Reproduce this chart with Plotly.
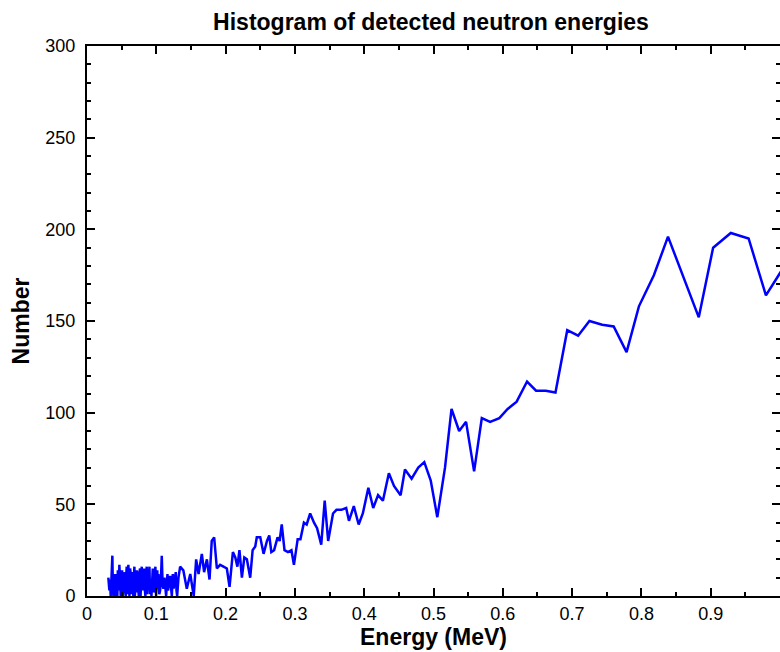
import plotly.graph_objects as go

# Low-energy region (dense, noisy bins)
energy_low = [
    0.0308, 0.0315, 0.0323, 0.0332, 0.0342, 0.0349, 0.0356, 0.0366, 0.0373, 0.0381,
    0.0388, 0.0395, 0.0402, 0.0409, 0.0419, 0.0428, 0.0438, 0.0445, 0.0453, 0.0460,
    0.0467, 0.0477, 0.0487, 0.0496, 0.0506, 0.0515, 0.0525, 0.0532, 0.0539, 0.0549,
    0.0559, 0.0566, 0.0573, 0.0580, 0.0588, 0.0597, 0.0604, 0.0612, 0.0622, 0.0631,
    0.0638, 0.0645, 0.0655, 0.0662, 0.0669, 0.0676, 0.0684, 0.0691, 0.0698, 0.0708,
    0.0717, 0.0727, 0.0737, 0.0747, 0.0756, 0.0766, 0.0773, 0.0780, 0.0790, 0.0797,
    0.0804, 0.0814, 0.0824, 0.0833, 0.0843, 0.0852, 0.0862, 0.0869, 0.0877, 0.0886,
    0.0893, 0.0901, 0.0910, 0.0920, 0.0930, 0.0939, 0.0949, 0.0958, 0.0968, 0.0978,
    0.0987, 0.0997, 0.1007, 0.1014, 0.1021, 0.1031, 0.1043, 0.1055, 0.1067, 0.1079,
    0.1091, 0.1103, 0.1118, 0.1130, 0.1142, 0.1161, 0.1170, 0.1180, 0.1199, 0.1212,
    0.1224, 0.1238, 0.1250, 0.1262, 0.1281, 0.1291, 0.1301, 0.1320, 0.1344,
]
counts_low = [
    10, 4, 3, 9, 0, 6, 11, 22, 5, 0,
    12, 8, 0, 2, 12, 5, 0, 14, 10, 3,
    17, 8, 0, 9, 14, 0, 4, 13, 10, 2,
    0, 11, 16, 1, 6, 17, 9, 0, 15, 12,
    1, 4, 13, 6, 0, 10, 16, 0, 7, 2,
    14, 11, 3, 0, 13, 15, 0, 5, 16, 7,
    3, 12, 15, 4, 0, 11, 16, 1, 8, 5,
    13, 16, 1, 9, 0, 6, 15, 2, 3, 12,
    16, 0, 9, 14, 4, 12, 1, 3, 9, 22,
    6, 4, 10, 2, 0, 12, 3, 6, 11, 5,
    0, 12, 4, 8, 13, 3, 0, 10, 16,
]

# Middle region
energy_mid = [
    0.139, 0.144, 0.149, 0.154, 0.1575, 0.161, 0.1657, 0.169, 0.173, 0.1768,
    0.180, 0.1835, 0.1874, 0.192, 0.197, 0.2018, 0.2057, 0.2105, 0.214, 0.217,
    0.220, 0.2235, 0.227, 0.2307, 0.2355, 0.239, 0.2428, 0.245, 0.250, 0.2548,
    0.2597,
]
counts_mid = [
    14, 4, 12, 0, 20, 12, 23, 13, 20, 9,
    30, 32, 15, 17, 16, 15, 5, 24, 21, 16,
    25, 10, 21, 20, 10, 25, 27, 32, 32, 23,
    30,
]

# High-energy region
energy_high = [
    0.263, 0.266, 0.270, 0.275, 0.278, 0.281, 0.285, 0.290, 0.295, 0.2986,
    0.304, 0.308, 0.313, 0.317, 0.322, 0.3276, 0.332, 0.338, 0.343, 0.348,
    0.355, 0.360, 0.367, 0.374, 0.378, 0.385, 0.392, 0.398, 0.406, 0.413,
    0.420, 0.427, 0.4356, 0.443, 0.4525, 0.4588, 0.4684, 0.478, 0.4867, 0.496,
    0.5055, 0.5166, 0.526, 0.537, 0.547, 0.5586, 0.5697, 0.5817, 0.595, 0.607,
    0.620, 0.635, 0.648, 0.662, 0.676, 0.693, 0.7087, 0.725, 0.7434, 0.760,
    0.7786, 0.7964, 0.818, 0.8384, 0.8606, 0.8828, 0.9035, 0.929, 0.9547, 0.9797,
    1.0014,
]
counts_high = [
    33, 24, 25, 32, 30, 39, 25, 24, 25, 17,
    31, 31, 40, 39, 45, 40, 37, 28, 52, 30,
    45, 47, 47, 48, 41, 49, 39, 45, 59, 48,
    55, 52, 67, 60, 55, 69, 64, 70, 73, 63,
    43, 70, 102, 90, 95, 68, 97, 95, 97, 102,
    106, 117, 112, 112, 111, 145, 142, 150, 148, 147,
    133, 158, 175, 196, 174, 152, 190, 198, 195, 164,
    177,
]

x_ticks = [0, 0.1, 0.2, 0.3, 0.4, 0.5, 0.6, 0.7, 0.8, 0.9, 1]
x_tick_labels = ["0", "0.1", "0.2", "0.3", "0.4", "0.5", "0.6", "0.7", "0.8", "0.9", "1"]
y_ticks = [0, 50, 100, 150, 200, 250, 300]

energy = energy_low + energy_mid + energy_high
counts = counts_low + counts_mid + counts_high

FONT = "Liberation Sans, Arial, sans-serif"

fig = go.Figure(
    go.Scatter(
        x=energy, y=counts, mode="lines",
        line=dict(color="#0000FF", width=2.5),
        hoverinfo="x+y",
    )
)

axis_common = dict(
    showline=True, linecolor="black", linewidth=2, mirror="ticks",
    ticks="inside", ticklen=8, tickwidth=2, tickcolor="black",
    showgrid=False, zeroline=False,
    tickfont=dict(family=FONT, size=18, color="black"),
)

W = 782
fig.update_layout(
    width=W, height=652,
    margin=dict(l=87, r=0, t=46, b=56),
    paper_bgcolor="white", plot_bgcolor="white",
    showlegend=False,
    title=dict(
        text="<b>Histogram of detected neutron energies</b>",
        font=dict(family=FONT, size=23, color="black"),
        x=431 / W, xanchor="center", xref="container",
        y=1 - 22 / 652, yanchor="middle", yref="container",
    ),
    xaxis=dict(
        range=[0, 1], tickvals=x_ticks, ticktext=x_tick_labels,
        minor=dict(ticks="inside", ticklen=4, tickwidth=1.5, dtick=0.05, tickcolor="black", showgrid=False),
        title=dict(text="<b>Energy (MeV)</b>", font=dict(family=FONT, size=23, color="black"), standoff=6),
        **axis_common,
    ),
    yaxis=dict(
        range=[0, 300], tickvals=y_ticks,
        minor=dict(ticks="inside", ticklen=4, tickwidth=1.5, dtick=10, tickcolor="black", showgrid=False),
        title=dict(text="<b>Number</b>", font=dict(family=FONT, size=23, color="black"), standoff=9),
        ticklabelstandoff=6,
        **axis_common,
    ),
)

fig.write_html(
    "out.html",
    post_script="document.documentElement.style.overflow='hidden';document.body.style.overflow='hidden';document.body.style.margin='0';",
)
